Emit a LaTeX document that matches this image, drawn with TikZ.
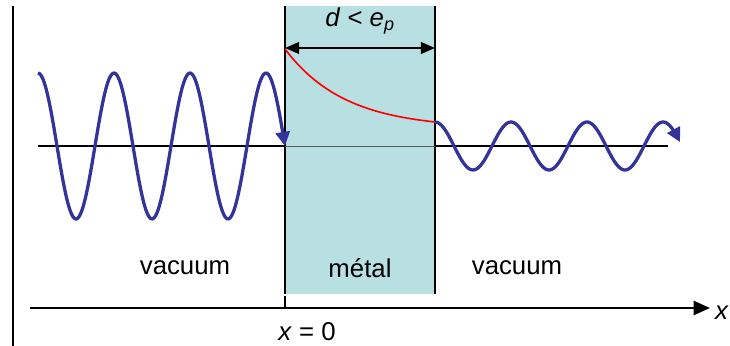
\documentclass[tikz,border=0pt]{standalone}
\usepackage{fontspec}
\setmainfont{Liberation Sans}
\usetikzlibrary{positioning, arrows.meta, calc}
\definecolor{metalfill}{HTML}{B8DFE2}
\definecolor{wavecol}{HTML}{333399}
\definecolor{decay}{HTML}{FF0000}

\begin{document}
\begin{tikzpicture}[
  x=0.03cm, y=-0.03cm,
  every node/.style={font=\fontsize{22}{26}\selectfont},
  metal/.style={
    fill=metalfill, inner sep=0pt,
    minimum width=4.5cm, minimum height=8.64cm
  },
  edge/.style={black, line width=1.4pt},
  axis/.style={-{Triangle[length=14pt, width=12pt]}, black, line width=2pt},
  dim/.style={{Triangle[length=12pt, width=10pt]}-{Triangle[length=12pt, width=10pt]}, black, line width=1.5pt},
  wave/.style={-{Triangle[length=12pt, width=12pt]}, wavecol, line width=2.8pt},
  decayline/.style={decay, line width=1.4pt}
]
  \useasboundingbox (0,0) rectangle (730,346);

  % slab and frame
  \node[metal] (metal) at (360,150) {};
  \draw[line width=1.8pt] (13,6) -- (13,346);
  \draw[edge] (metal.north west) -- (metal.south west);
  \draw[edge] (metal.north east) -- (metal.south east);

  % x axis
  \coordinate (axl) at (30,308);
  \coordinate (axr) at (710,308);
  \coordinate (orig) at (285,308);
  \draw[axis] (axl) -- (axr);
  \draw[edge] ($(orig)+(0,-12)$) -- (orig);
  \node (xlab) at (722,313) {\textit{x}};
  \node[inner sep=0.5pt] (origlab) at (307,332) {\textit{x} = 0};

  % mean line
  \coordinate (ml) at (38,146);
  \coordinate (mr) at (668,146);
  \draw[line width=1.8pt] (ml) -- (metal.west |- ml);
  \draw[gray!70!black, line width=0.8pt] (metal.west |- ml) -- (metal.east |- ml);
  \draw[line width=1.8pt] (metal.east |- mr) -- (mr);

  % thickness
  \coordinate (dl) at (285,48);
  \coordinate (dr) at (435,48);
  \draw[dim] (dl) -- (dr);
  \node (dlab) at (360,21) {\textit{d} < \textit{e}\textsubscript{\textit{p}}};

  % waves (period 76px -> 4.7368 deg per px)
  \draw[wave] plot[domain=38:285, samples=150] (\x, {146 - 73*cos(4.7368*(\x-266))});
  \draw[decayline] plot[domain=285:435, samples=60] (\x, {128.5 - 79.5*exp(-(\x-285)/60)});
  \draw[wave] plot[domain=435:680, samples=150] (\x, {146 - 24*cos(4.7368*(\x-435))});

  % regions
  \node (vac1) at (185,268) {vacuum};
  \node (met) at (360,268) {métal};
  \node (vac2) at (517,268) {vacuum};
\end{tikzpicture}
\end{document}
